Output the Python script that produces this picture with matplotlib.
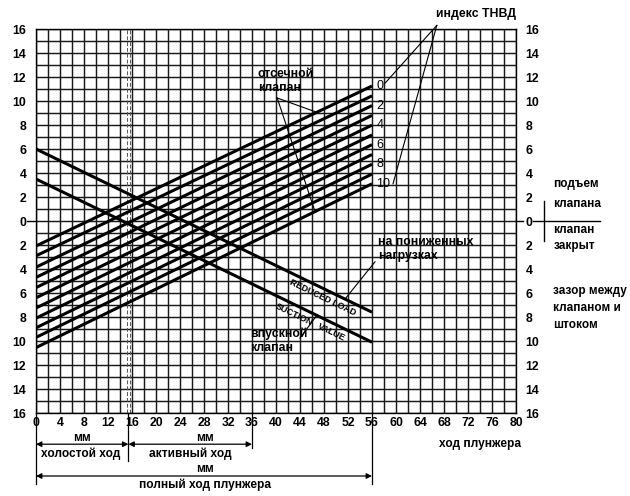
import numpy as np
import matplotlib
matplotlib.use("Agg")
import matplotlib.pyplot as plt
from matplotlib.ticker import MultipleLocator, FuncFormatter

plt.rcParams['font.family'] = ['Liberation Sans Narrow', 'Liberation Sans', 'DejaVu Sans']

# ---------------- data ----------------
x_start = 0
x_end = 56
# cut-off valve lines for TNVD index 0..10 : value at x=0 and at x=56
cutoff_left = [-2.08, -2.9, -3.85, -4.7, -5.55, -6.4, -7.25, -8.1, -8.9, -9.7, -10.55]
cutoff_right = [11.25, 10.43, 9.62, 8.8, 7.99, 7.17, 6.36, 5.54, 4.73, 3.91, 3.1]
index_labels = ['0', '', '2', '', '4', '', '6', '', '8', '', '10']
# descending lines
reduced_load = [6.0, -7.6]
suction_valve = [3.5, -10.1]
idle_stroke_end = 15.4
active_stroke_end = 36
full_stroke_end = 56

x_ticks = list(range(0, 81, 4))
y_ticks = list(range(-16, 17, 2))

# ---------------- figure ----------------
fig = plt.figure(figsize=(6.3, 4.96), dpi=100)
ax = fig.add_axes([36/630, 83/496, 480/630, 384/496])
ax.set_xlim(0, 80)
ax.set_ylim(-16, 16)

ax.set_xticks(x_ticks)
ax.set_yticks(y_ticks)
ax.xaxis.set_minor_locator(MultipleLocator(2))
ax.yaxis.set_minor_locator(MultipleLocator(1))
ax.grid(which='both', color='#1a1a1a', lw=1.05)
ax.set_axisbelow(True)
ax.yaxis.set_major_formatter(FuncFormatter(lambda v, p: f"{abs(int(round(v)))}"))
ax.xaxis.set_major_formatter(FuncFormatter(lambda v, p: f"{int(round(v))}"))
ax.tick_params(which='both', length=0)
ax.tick_params(axis='y', labelright=True, labelleft=True)
ax.tick_params(axis='y', which='major', pad=7)
ax.tick_params(axis='x', which='major', pad=3)
for lab in ax.get_xticklabels() + ax.get_yticklabels():
    lab.set_fontsize(8.8)
    lab.set_fontweight('bold')
for sp in ax.spines.values():
    sp.set_color('black')
    sp.set_linewidth(1.0)

# dashed idle-stroke line
for dx in (-0.2, 0.2):
    ax.axvline(idle_stroke_end + dx, color='#555555', lw=0.7, ls=(0, (4, 2)))

# main lines
for yl, yr in zip(cutoff_left, cutoff_right):
    ax.plot([x_start, x_end], [yl, yr], color='black', lw=2.2, solid_capstyle='butt')
ax.plot([x_start, x_end], reduced_load, color='black', lw=2.2, solid_capstyle='butt')
ax.plot([x_start, x_end], suction_valve, color='black', lw=2.2, solid_capstyle='butt')

# index labels
for lab, yr in zip(index_labels, cutoff_right):
    if lab:
        ax.text(56.7, yr, lab, fontsize=9, ha='left', va='center')

k = dict(clip_on=False, color='black')
# zero line extensions
ax.plot([-1.5, 0], [0, 0], lw=1.0, **k)
ax.plot([80, 81.2], [0, 0], lw=1.0, **k)
ax.plot([82.8, 94], [0, 0], lw=1.0, **k)
ax.plot([84.7, 84.7], [-1.7, 1.7], lw=1.0, **k)

tk = dict(fontsize=8.5, fontweight='bold', ha='left', va='center')
ax.text(86.2, 3.1, 'подъем', **tk)
ax.text(86.2, 1.4, 'клапана', **tk)
ax.text(86.2, -0.75, 'клапан', **tk)
ax.text(86.2, -2.05, 'закрыт', **tk)
ax.text(86.2, -5.8, 'зазор между', **tk)
ax.text(86.2, -7.25, 'клапаном и', **tk)
ax.text(86.2, -8.7, 'штоком', **tk)

# TNVD index label with leaders
ax.text(73.3, 17.25, 'индекс ТНВД', fontsize=8.8, fontweight='bold', ha='center', va='center', clip_on=False)
ax.plot([66.8, 58.2], [16.3, 11.5], lw=0.8, **k)
ax.plot([66.8, 59.5], [16.3, 3.1], lw=0.8, **k)

# cut-off valve label
ax.text(37.0, 11.65, 'отсечной\nклапан', fontsize=8.8, fontweight='bold', ha='left', va='center', linespacing=1.2)
x1, x2 = 46.8, 46.5
y1 = np.interp(x1, [x_start, x_end], [cutoff_left[0], cutoff_right[0]])
y2 = np.interp(x2, [x_start, x_end], [cutoff_left[-1], cutoff_right[-1]])
ax.plot([40.2, x1], [10.25, y1], lw=0.8, color='black')
ax.plot([40.2, x2], [10.25, y2], lw=0.8, color='black')

# reduced load label
ax.text(57.0, -2.35, 'на пониженных\nнагрузках', fontsize=8.8, fontweight='bold', ha='left', va='center', linespacing=1.2)
xr = 51.5
yr_ = np.interp(xr, [x_start, x_end], reduced_load)
ax.plot([56.5, xr], [-3.4, yr_], lw=0.8, color='black')

# suction valve label
ax.text(35.7, -10.0, 'впускной\nклапан', fontsize=8.8, fontweight='bold', ha='left', va='center', linespacing=1.2)
xs = 46.8
ys = np.interp(xs, [x_start, x_end], suction_valve)
ax.plot([44.0, xs], [-9.75, ys], lw=0.8, color='black')

ang = -25.9
ax.text(47.8, -6.4, 'REDUCED LOAD', fontsize=6.5, fontweight='bold', rotation=ang,
        rotation_mode='anchor', ha='center', va='center')
ax.text(43.0, -7.8, 'SUCTION', fontsize=6.5, fontweight='bold', rotation=ang,
        rotation_mode='anchor', ha='center', va='center')
ax.text(49.3, -9.25, 'VALUE', fontsize=6.5, fontweight='bold', rotation=ang,
        rotation_mode='anchor', ha='center', va='center')

# bottom stroke annotations
ax.plot([0, 0], [-16, -21.9], lw=0.9, **k)
ax.plot([idle_stroke_end, idle_stroke_end], [-16, -20.0], lw=0.9, **k)
ax.plot([active_stroke_end, active_stroke_end], [-16, -18.9], lw=0.9, **k)
ax.plot([full_stroke_end, full_stroke_end], [-16, -21.9], lw=0.9, **k)

ap = dict(arrowstyle='<|-|>', mutation_scale=8, lw=0.9, color='black', shrinkA=0, shrinkB=0)
ax.annotate('', xy=(0, -18.6), xytext=(idle_stroke_end, -18.6), arrowprops=ap, annotation_clip=False)
ax.annotate('', xy=(idle_stroke_end, -18.6), xytext=(active_stroke_end, -18.6), arrowprops=ap, annotation_clip=False)
ax.annotate('', xy=(0, -21.25), xytext=(full_stroke_end, -21.25), arrowprops=ap, annotation_clip=False)

bt = dict(fontsize=8.6, fontweight='bold', ha='center', va='center', clip_on=False)
ax.text(7.7, -18.05, 'мм', **bt)
ax.text(7.4, -19.4, 'холостой ход', **bt)
ax.text(28.2, -18.05, 'мм', **bt)
ax.text(25.7, -19.4, 'активный ход', **bt)
ax.text(28.2, -20.65, 'мм', **bt)
ax.text(28.2, -21.95, 'полный ход плунжера', **bt)
ax.text(74.0, -18.6, 'ход плунжера', **bt)

fig.savefig('out.png', dpi=100, facecolor='white')
